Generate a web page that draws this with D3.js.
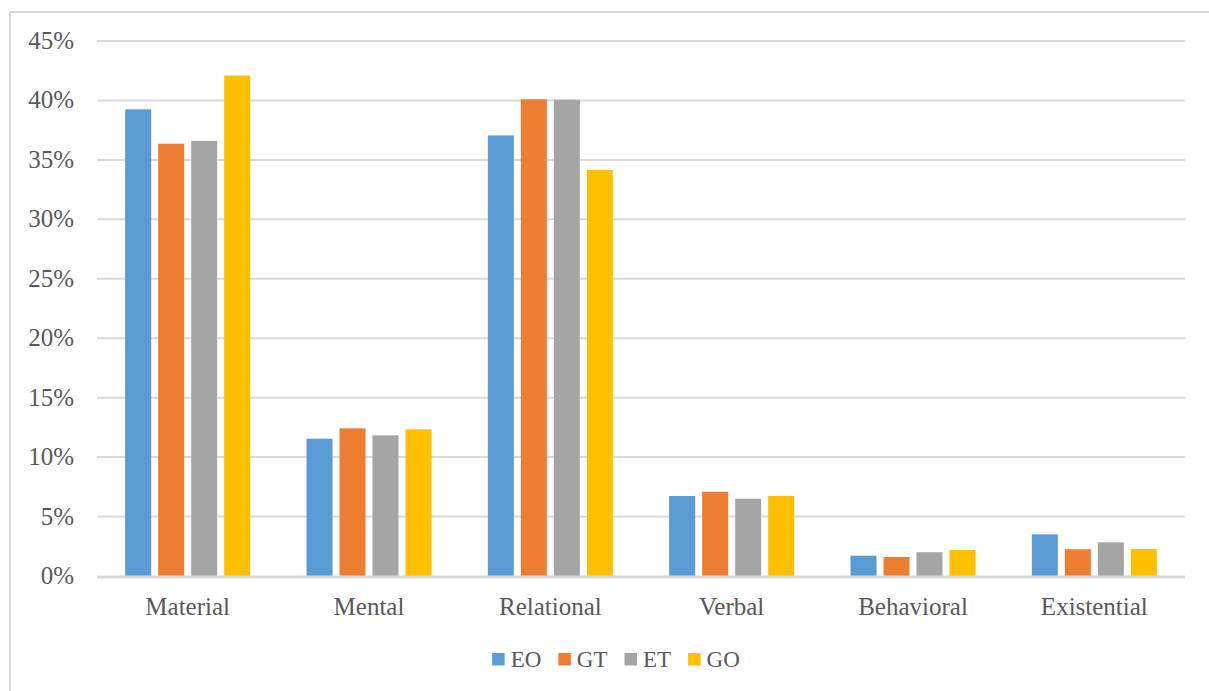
<!DOCTYPE html>
<html>
<head>
<meta charset="utf-8">
<script src="https://cdn.jsdelivr.net/npm/d3@7"></script>
<style>
  html, body { margin: 0; padding: 0; background: #fff; }
  svg text { font-family: "Liberation Serif", "Times New Roman", serif; fill: #595959; }
</style>
</head>
<body>
<svg id="chart" width="1209" height="691"></svg>
<script>
// Process types and their share (%) in each corpus
const categories = ["Material", "Mental", "Relational", "Verbal", "Behavioral", "Existential"];
const seriesNames = ["EO", "GT", "ET", "GO"];
const EO = [39.25, 11.55, 37.06, 6.73, 1.71, 3.50];
const GT = [36.36, 12.42, 40.10, 7.09, 1.60, 2.25];
const ET = [36.60, 11.83, 40.06, 6.50, 2.00, 2.83];
const GO = [42.10, 12.34, 34.15, 6.73, 2.19, 2.27];
const seriesColors = ["#5b9bd5", "#ed7d31", "#a5a5a5", "#ffc000"];
const yTicks = [0, 5, 10, 15, 20, 25, 30, 35, 40, 45];

const seriesValues = [EO, GT, ET, GO];

const svg = d3.select("#chart");

// Outer chart frame
svg.append("rect")
  .attr("x", 10).attr("y", 12)
  .attr("width", 1230).attr("height", 720)
  .attr("fill", "none")
  .attr("stroke", "#d9d9d9")
  .attr("stroke-width", 2);

const plot = { left: 97, right: 1185, top: 41, bottom: 576 };

const y = d3.scaleLinear().domain([0, 45]).range([plot.bottom, plot.top]);

const x0 = d3.scaleBand()
  .domain(categories)
  .range([plot.left, plot.right])
  .paddingInner(0.272)
  .paddingOuter(0.136);

const x1 = d3.scaleBand()
  .domain(seriesNames)
  .range([0, x0.bandwidth()])
  .paddingInner(0.212)
  .paddingOuter(0.106);

// Horizontal gridlines
svg.append("g")
  .selectAll("line")
  .data(yTicks.filter(t => t > 0))
  .join("line")
  .attr("x1", plot.left).attr("x2", plot.right)
  .attr("y1", d => y(d)).attr("y2", d => y(d))
  .attr("stroke", "#d9d9d9")
  .attr("stroke-width", 2);

// Y tick labels
svg.append("g")
  .selectAll("text")
  .data(yTicks)
  .join("text")
  .attr("x", 74)
  .attr("y", d => y(d) + 8)
  .attr("text-anchor", "end")
  .attr("font-size", 25)
  .text(d => d + "%");

// Bars
const groups = svg.append("g")
  .selectAll("g")
  .data(categories)
  .join("g")
  .attr("transform", c => `translate(${x0(c)},0)`);

groups.selectAll("rect")
  .data((c, i) => seriesNames.map((s, k) => ({ s, k, v: seriesValues[k][i] })))
  .join("rect")
  .attr("x", d => x1(d.s))
  .attr("width", x1.bandwidth())
  .attr("y", d => y(d.v))
  .attr("height", d => y(0) - y(d.v))
  .attr("fill", d => seriesColors[d.k]);

// Category axis line
svg.append("line")
  .attr("x1", plot.left).attr("x2", plot.right)
  .attr("y1", plot.bottom + 1).attr("y2", plot.bottom + 1)
  .attr("stroke", "#d9d9d9")
  .attr("stroke-width", 3);

// Category labels
svg.append("g")
  .selectAll("text")
  .data(categories)
  .join("text")
  .attr("x", c => x0(c) + x0.bandwidth() / 2)
  .attr("y", 615)
  .attr("text-anchor", "middle")
  .attr("font-size", 25)
  .text(c => c);

// Legend, laid out from measured label widths and centred
const legend = svg.append("g");
const items = legend.selectAll("g")
  .data(seriesNames)
  .join("g");
items.append("rect")
  .attr("width", 12.5).attr("height", 12.5)
  .attr("y", 653)
  .attr("fill", (d, i) => seriesColors[i]);
items.append("text")
  .attr("x", 18.5)
  .attr("y", 667)
  .attr("font-size", 23)
  .text(d => d);

let cursor = 0;
const offsets = [];
items.each(function () {
  const w = d3.select(this).select("text").node().getComputedTextLength();
  offsets.push(cursor);
  cursor += 18.5 + w + 17;
});
const total = cursor - 17;
const start = 616 - total / 2;
items.attr("transform", (d, i) => `translate(${start + offsets[i]},0)`);
</script>
</body>
</html>
